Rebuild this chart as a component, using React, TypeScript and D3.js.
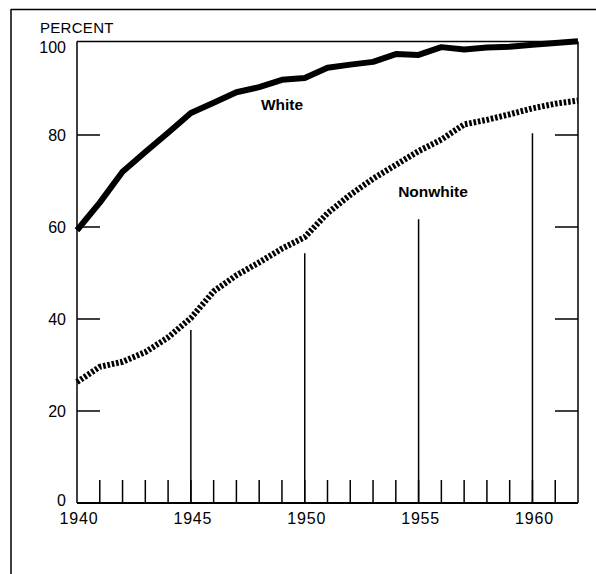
import React from "react";
import * as d3 from "d3";

const years = d3.range(1940, 1963);
const whiteValues = [59.3, 65.3, 72, 76.3, 80.5, 84.8, 87, 89.3, 90.4, 92, 92.4, 94.6, 95.3, 95.9, 97.6, 97.4, 99.1, 98.6, 99, 99.2, 99.6, 100, 100.4];
const nonwhiteValues = [26.3, 29.6, 30.7, 32.8, 36, 40.2, 46, 49.5, 52.3, 55.3, 57.8, 63, 67, 70.5, 73.5, 76.5, 79, 82.3, 83.3, 84.5, 85.8, 86.8, 87.5];
const yTickValues = [0, 20, 40, 60, 80, 100];
const sideTickValues = [20, 40, 60, 80];
const xLabelYears = [1940, 1945, 1950, 1955, 1960];
const dropYears = [1945, 1950, 1955, 1960];
const dropValues = [37.6, 54.3, 61.7, 80.4];
const yearTickHeight = 5;

const W = 596, H = 574;
const font = "'Liberation Sans', Arial, Helvetica, sans-serif";

export default function App() {
  const x = d3.scaleLinear().domain([1940, 1962]).range([77, 578]);
  const y = d3.scaleLinear().domain([0, 100]).range([503, 43]);
  const line = d3.line<number>().x((_, i) => x(years[i])).y((d) => y(d)).curve(d3.curveLinear);
  const x0 = x(1940), x1 = x(1962), y0 = y(0), yTop = y(100) - 1.5;
  const tickLen = 23;

  return (
    <svg width={W} height={H} style={{ position: "absolute", left: 0, top: 0, background: "#fff" }}>
      {/* outer frame */}
      <line x1={11} y1={9.5} x2={596} y2={9.5} stroke="#000" strokeWidth={1.5} />
      <line x1={11} y1={9} x2={11} y2={574} stroke="#000" strokeWidth={1.5} />

      {/* plot frame */}
      <line x1={x0} y1={yTop} x2={x1} y2={yTop} stroke="#000" strokeWidth={1.5} />
      <line x1={x0} y1={yTop} x2={x0} y2={y0} stroke="#000" strokeWidth={1.5} />
      <line x1={x1} y1={yTop} x2={x1} y2={y0} stroke="#000" strokeWidth={1.5} />
      <line x1={x0} y1={y0} x2={x1} y2={y0} stroke="#000" strokeWidth={2} />

      {/* side ticks */}
      {sideTickValues.map((v) => (
        <g key={v}>
          <line x1={x0} y1={y(v)} x2={x0 + tickLen} y2={y(v)} stroke="#000" strokeWidth={1.5} />
          <line x1={x1 - tickLen} y1={y(v)} x2={x1} y2={y(v)} stroke="#000" strokeWidth={1.5} />
        </g>
      ))}

      {/* year ticks */}
      {years.slice(1, -1).map((yr) => (
        <line key={yr} x1={x(yr)} y1={y0} x2={x(yr)} y2={y(yearTickHeight)} stroke="#000" strokeWidth={1.5} />
      ))}

      {/* drop lines */}
      {dropYears.map((yr, i) => (
        <line key={yr} x1={x(yr)} y1={y0} x2={x(yr)} y2={y(dropValues[i])} stroke="#000" strokeWidth={1.5} />
      ))}

      {/* series */}
      <path d={line(whiteValues) || ""} fill="none" stroke="#000" strokeWidth={6} strokeLinejoin="round" />
      <path d={line(nonwhiteValues) || ""} fill="none" stroke="#000" strokeWidth={6} strokeDasharray="2.6 1.8" />

      {/* y labels */}
      {yTickValues.map((v) => (
        <text key={v} x={66} y={y(v) + (v === 100 ? 4 : v === 0 ? -3 : 0)} textAnchor="end" dominantBaseline="central" fontFamily={font} fontSize={16} fill="#000">
          {v}
        </text>
      ))}
      <text x={40} y={33} fontFamily={font} fontSize={15} letterSpacing={0.3} fill="#000">PERCENT</text>

      {/* x labels */}
      {xLabelYears.map((yr) => (
        <text key={yr} x={x(yr) + 2} y={524} textAnchor="middle" fontFamily={font} fontSize={16} letterSpacing={0.8} fill="#000">
          {yr}
        </text>
      ))}

      <text x={282} y={110} textAnchor="middle" fontFamily={font} fontSize={15.5} fontWeight="bold" fill="#000">White</text>
      <text x={433} y={197} textAnchor="middle" fontFamily={font} fontSize={15.5} fontWeight="bold" fill="#000">Nonwhite</text>
    </svg>
  );
}
